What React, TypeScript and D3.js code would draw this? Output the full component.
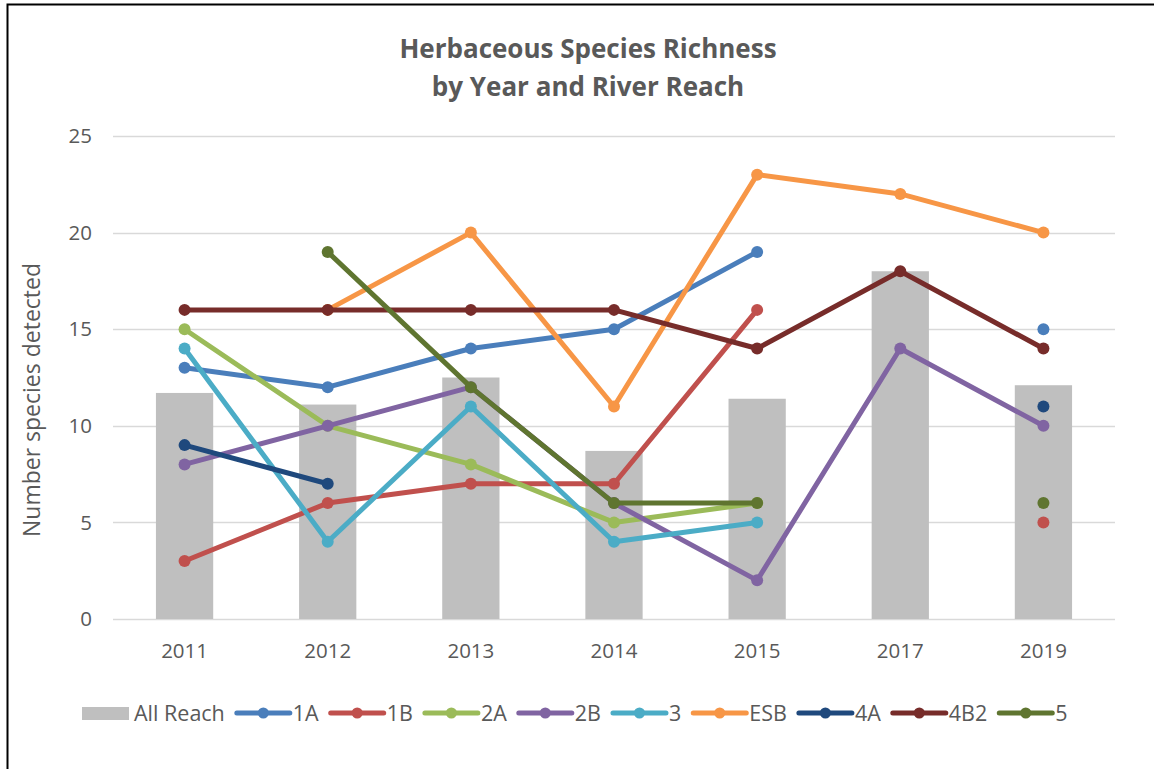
// @ts-nocheck
import { useEffect, useRef } from 'react'
import * as d3 from 'd3'

const years = ['2011', '2012', '2013', '2014', '2015', '2017', '2019']
const allReach = [11.7, 11.1, 12.5, 8.7, 11.4, 18.0, 12.1]
const reach1A = [13, 12, 14, 15, 19, null, 15]
const reach1B = [3, 6, 7, 7, 16, null, 5]
const reach2A = [15, 10, 8, 5, 6, null, null]
const reach2B = [8, 10, 12, 6, 2, 14, 10]
const reach3 = [14, 4, 11, 4, 5, null, null]
const reachESB = [null, 16, 20, 11, 23, 22, 20]
const reach4A = [9, 7, null, null, null, null, 11]
const reach4B2 = [16, 16, 16, 16, 14, 18, 14]
const reach5 = [null, 19, 12, 6, 6, null, 6]
const yTicks = [0, 5, 10, 15, 20, 25]

const series = [
  { name: '1A', values: reach1A, color: '#4a7ebb' },
  { name: '1B', values: reach1B, color: '#c0504d' },
  { name: '2A', values: reach2A, color: '#9bbb59' },
  { name: '2B', values: reach2B, color: '#8064a2' },
  { name: '3', values: reach3, color: '#4bacc6' },
  { name: 'ESB', values: reachESB, color: '#f79646' },
  { name: '4A', values: reach4A, color: '#1f497d' },
  { name: '4B2', values: reach4B2, color: '#772c2a' },
  { name: '5', values: reach5, color: '#5f7530' },
]

const font = "'Open Sans', sans-serif"
const textColor = '#595959'

export default function App() {
  const svgRef = useRef<any>()
  const width = 1154
  const height = 769
  const plot = { left: 113, right: 1115, top: 136, bottom: 619 }

  useEffect(() => {
    const svg = d3.select(svgRef.current)
    svg.selectAll('*').remove()

    svg.append('rect').attr('width', width).attr('height', height).attr('fill', '#fff')
    // frame (only top and left visible)
    svg
      .append('path')
      .attr('d', `M7.5,${height} L7.5,4.5 L${width},4.5`)
      .attr('fill', 'none')
      .attr('stroke', '#000')
      .attr('stroke-width', 2)

    const x = d3.scaleBand().domain(years).range([plot.left, plot.right]).paddingInner(0.6).paddingOuter(0.3)
    const xc = d3.scalePoint().domain(years).range([plot.left, plot.right]).padding(0.5)
    const y = d3.scaleLinear().domain([0, 25]).range([plot.bottom, plot.top])

    // title
    const title = svg
      .append('text')
      .attr('x', 588)
      .attr('text-anchor', 'middle')
      .attr('font-family', font)
      .attr('font-weight', 'bold')
      .attr('font-size', 26)
      .attr('fill', textColor)
    title.append('tspan').attr('x', 588).attr('y', 58).text('Herbaceous Species Richness')
    title.append('tspan').attr('x', 588).attr('y', 96).text('by Year and River Reach')

    // grid
    svg
      .append('g')
      .selectAll('line')
      .data(yTicks)
      .enter()
      .append('line')
      .attr('x1', plot.left)
      .attr('x2', plot.right)
      .attr('y1', (d) => Math.round(y(d)) + 0.5)
      .attr('y2', (d) => Math.round(y(d)) + 0.5)
      .attr('stroke', '#d9d9d9')
      .attr('stroke-width', 1.5)

    // y tick labels
    svg
      .append('g')
      .selectAll('text')
      .data(yTicks)
      .enter()
      .append('text')
      .attr('x', 92)
      .attr('y', (d) => y(d))
      .attr('dy', '0.35em')
      .attr('text-anchor', 'end')
      .attr('font-family', font)
      .attr('font-size', 20.5)
      .attr('fill', textColor)
      .text((d) => d)

    // y axis title
    svg
      .append('text')
      .attr('transform', `translate(40,400) rotate(-90)`)
      .attr('text-anchor', 'middle')
      .attr('font-family', font)
      .attr('font-size', 23)
      .attr('fill', textColor)
      .text('Number species detected')

    // x tick labels
    svg
      .append('g')
      .selectAll('text')
      .data(years)
      .enter()
      .append('text')
      .attr('x', (d) => xc(d))
      .attr('y', 651)
      .attr('dy', '0.35em')
      .attr('text-anchor', 'middle')
      .attr('font-family', font)
      .attr('font-size', 20.5)
      .attr('fill', textColor)
      .text((d) => d)

    // bars
    svg
      .append('g')
      .selectAll('rect')
      .data(allReach)
      .enter()
      .append('rect')
      .attr('x', (d, i) => xc(years[i]) - x.bandwidth() / 2)
      .attr('width', x.bandwidth())
      .attr('y', (d) => y(d))
      .attr('height', (d) => y(0) - y(d))
      .attr('fill', '#bfbfbf')

    // lines
    const line = d3
      .line<any>()
      .defined((d) => d != null)
      .x((d, i) => xc(years[i]))
      .y((d) => y(d))

    series.forEach((s) => {
      const g = svg.append('g')
      g.append('path')
        .attr('d', line(s.values))
        .attr('fill', 'none')
        .attr('stroke', s.color)
        .attr('stroke-width', 5)
        .attr('stroke-linejoin', 'round')
        .attr('stroke-linecap', 'round')
      g.selectAll('circle')
        .data(s.values.map((v, i) => ({ v, i })).filter((d) => d.v != null))
        .enter()
        .append('circle')
        .attr('cx', (d) => xc(years[d.i]))
        .attr('cy', (d) => y(d.v))
        .attr('r', 6)
        .attr('fill', s.color)
    })

    // legend
    const legend = svg.append('g')
    const ly = 713
    const lfs = 21.5
    let lx = 82
    legend.append('rect').attr('x', lx).attr('y', ly - 6).attr('width', 47).attr('height', 13).attr('fill', '#bfbfbf')
    const t0 = legend
      .append('text')
      .attr('x', lx + 52)
      .attr('y', ly)
      .attr('dy', '0.35em')
      .attr('font-family', font)
      .attr('font-size', lfs)
      .attr('fill', textColor)
      .text('All Reach')
    lx = lx + 52 + t0.node().getComputedTextLength() + 12
    series.forEach((s) => {
      legend
        .append('line')
        .attr('x1', lx)
        .attr('x2', lx + 53)
        .attr('y1', ly)
        .attr('y2', ly)
        .attr('stroke', s.color)
        .attr('stroke-width', 5)
        .attr('stroke-linecap', 'round')
      legend.append('circle').attr('cx', lx + 26.5).attr('cy', ly).attr('r', 5.5).attr('fill', s.color)
      const t = legend
        .append('text')
        .attr('x', lx + 56)
        .attr('y', ly)
        .attr('dy', '0.35em')
        .attr('font-family', font)
        .attr('font-size', lfs)
        .attr('fill', textColor)
        .text(s.name)
      lx = lx + 56 + t.node().getComputedTextLength() + 12
    })
  }, [])

  return (
    <svg
      ref={svgRef}
      width={width}
      height={height}
      style={{ position: 'absolute', left: 0, top: 0, display: 'block' }}
    ></svg>
  )
}
